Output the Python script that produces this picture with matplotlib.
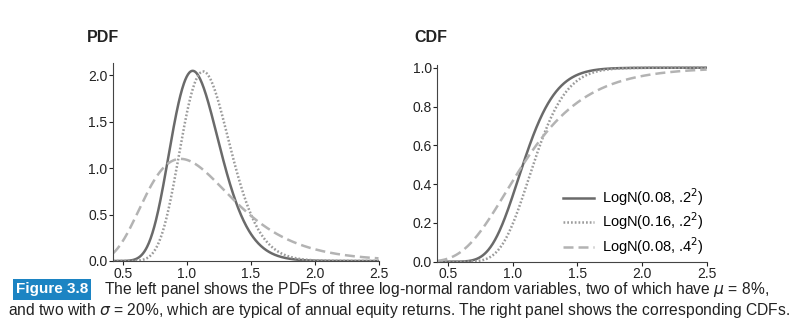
"""
Log-normal PDFs (left) and CDFs (right), figure 3.8 style.
"""

import numpy as np
import matplotlib
matplotlib.use("Agg")
import matplotlib.pyplot as plt
from math import erf

# mean return and volatility of the three variables (from the legend)
mus = [0.08, 0.16, 0.08]
sigmas = [0.2, 0.2, 0.4]
labels = ["LogN(0.08, .2$^2$)", "LogN(0.16, .2$^2$)", "LogN(0.08, .4$^2$)"]

pdf_ticks = [0.0, 0.5, 1.0, 1.5, 2.0]
cdf_ticks = [0.0, 0.2, 0.4, 0.6, 0.8, 1.0]
x_ticks = [0.5, 1.0, 1.5, 2.0, 2.5]

colors = ["#6a6a6a", "#9c9c9c", "#b3b3b3"]
styles = ["-", (0, (0.7, 0.8)), (0, (4, 2))]

plt.rcParams["font.family"] = ["Liberation Sans", "DejaVu Sans"]


def log_params(mu, sigma):
    # gross return 1+r with median 1+mu and sd sigma/(1+mu) in log terms
    m = np.log(1 + mu)
    s = np.sqrt(np.log(1 + (sigma / (1 + mu)) ** 2))
    return m, s


def lognorm_pdf(x, m, s):
    return np.exp(-(np.log(x) - m) ** 2 / (2 * s * s)) / (x * s * np.sqrt(2 * np.pi))


def lognorm_cdf(x, m, s):
    z = (np.log(x) - m) / (s * np.sqrt(2))
    return 0.5 * (1 + np.vectorize(erf)(z))


x = np.linspace(0.42, 2.5, 600)

W, H = 807, 334
fig = plt.figure(figsize=(W / 100, H / 100), dpi=100)
ax1 = fig.add_axes([113 / W, 1 - 261 / H, (378.5 - 113) / W, (261 - 63) / H])
ax2 = fig.add_axes([437.5 / W, 1 - 261.7 / H, (706.7 - 437.5) / W, (261.7 - 65) / H])

for mu, sig, c, ls, lab in zip(mus, sigmas, colors, styles, labels):
    m, s = log_params(mu, sig)
    ax1.plot(x, lognorm_pdf(x, m, s), color=c, ls=ls, lw=1.8, label=lab)
    ax2.plot(x, lognorm_cdf(x, m, s), color=c, ls=ls, lw=1.8, label=lab)

ax1.set_xlim(0.42, 2.5)
ax1.set_ylim(0, 2.13)
ax1.set_yticks(pdf_ticks)
ax1.set_yticklabels([f"{t:.1f}" for t in pdf_ticks])
ax2.set_xlim(0.42, 2.5)
ax2.set_ylim(0, 1.014)
ax2.set_yticks(cdf_ticks)
ax2.set_yticklabels([f"{t:.1f}" for t in cdf_ticks])

for ax in (ax1, ax2):
    ax.set_xticks(x_ticks)
    ax.set_xticklabels([f"{t:.1f}" for t in x_ticks])
    ax.spines["top"].set_visible(False)
    ax.spines["right"].set_visible(False)
    ax.spines["left"].set_color("#444444")
    ax.spines["bottom"].set_color("#444444")
    ax.tick_params(labelsize=10, length=3, width=0.8, pad=1, colors="#222222")

ax2.legend(loc="upper left", frameon=False, fontsize=10.5, handlelength=2.1,
           handletextpad=0.6, labelspacing=0.2, borderpad=0, borderaxespad=0,
           bbox_to_anchor=(563 / W, 1 - 186 / H), bbox_transform=fig.transFigure)

fig.text(87 / W, 1 - 37 / H, "PDF", fontsize=11.5, fontweight="bold", va="center", color="#222222")
fig.text(414 / W, 1 - 37 / H, "CDF", fontsize=11.5, fontweight="bold", va="center", color="#222222")

# caption
fig.text(16 / W, 1 - 289.5 / H, "Figure 3.8", fontsize=11, fontweight="bold", color="white",
         va="center", bbox=dict(boxstyle="square,pad=0.2", fc="#1c84c3", ec="none"))
line1 = fig.text(104 / W, 1 - 289.5 / H,
                 "The left panel shows the PDFs of three log-normal random variables, two of which have $\\mu$ = 8%,",
                 fontsize=10, va="center", color="#222222")
line2 = fig.text(8 / W, 1 - 311 / H,
                 "and two with $\\sigma$ = 20%, which are typical of annual equity returns. The right panel shows the corresponding CDFs.",
                 fontsize=10, va="center", color="#222222")

# shrink the caption so the second line spans the page width
renderer = fig.canvas.get_renderer()
w2 = line2.get_window_extent(renderer).width
fs = 10 * (782 / w2)
line1.set_fontsize(fs)
line2.set_fontsize(fs)

plt.savefig("out.png", dpi=100)
